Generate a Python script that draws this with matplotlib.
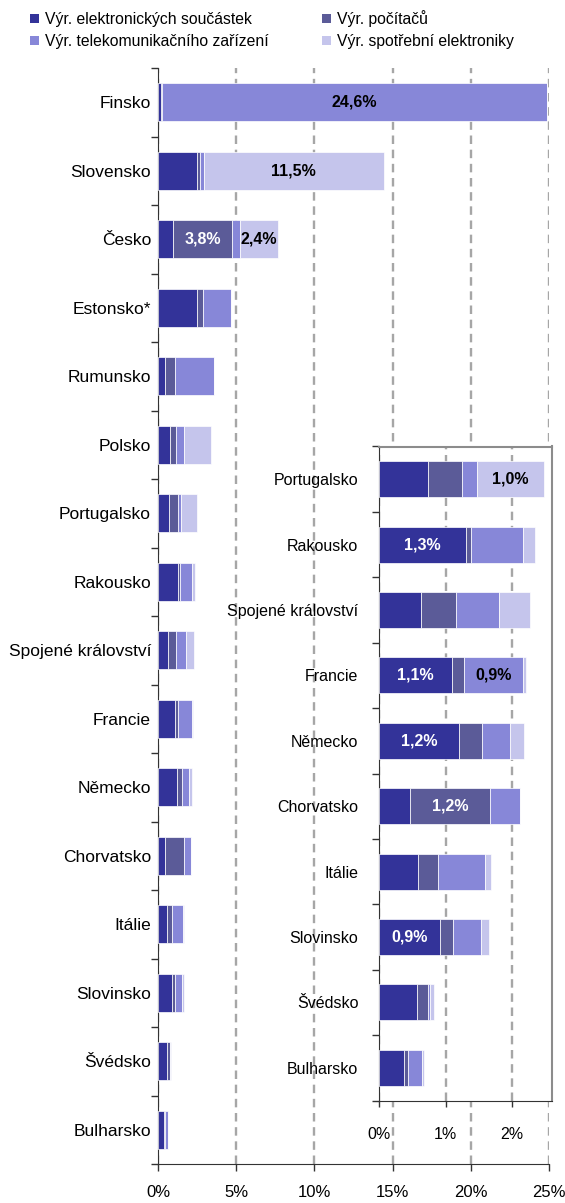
import matplotlib
matplotlib.use("Agg")
import matplotlib.pyplot as plt
from matplotlib.patches import Patch
import numpy as np

plt.rcParams["font.family"] = ["Liberation Sans", "DejaVu Sans"]

countries = ["Finsko", "Slovensko", "Česko", "Estonsko*", "Rumunsko", "Polsko",
             "Portugalsko", "Rakousko", "Spojené království", "Francie", "Německo",
             "Chorvatsko", "Itálie", "Slovinsko", "Švédsko", "Bulharsko"]
elec = [0.20, 2.50, 0.98, 2.50, 0.45, 0.77, 0.73, 1.31, 0.63, 1.09, 1.20, 0.47, 0.59, 0.92, 0.57, 0.38]
comp = [0.05, 0.17, 3.77, 0.38, 0.64, 0.36, 0.52, 0.07, 0.52, 0.18, 0.35, 1.20, 0.30, 0.19, 0.17, 0.06]
tele = [24.6, 0.25, 0.49, 1.81, 2.49, 0.53, 0.23, 0.78, 0.66, 0.90, 0.42, 0.45, 0.71, 0.42, 0.02, 0.20]
cons = [0.00, 11.5, 2.42, 0.00, 0.00, 1.70, 1.00, 0.19, 0.47, 0.04, 0.21, 0.00, 0.08, 0.13, 0.07, 0.03]
series_names = ["Výr. elektronických součástek", "Výr. počítačů",
                "Výr. telekomunikačního zařízení", "Výr. spotřební elektroniky"]
inset_countries = countries[6:]

# which segments get a value label: (series index, country, text colour)
value_labels = [(2, "Finsko", "black"), (3, "Slovensko", "black"),
                (1, "Česko", "white"), (3, "Česko", "black"),
                (3, "Portugalsko", "black"), (0, "Rakousko", "white"),
                (0, "Francie", "white"), (2, "Francie", "black"),
                (0, "Německo", "white"), (1, "Chorvatsko", "white"),
                (0, "Slovinsko", "white")]

colors = ["#333399", "#5B5B98", "#8787D8", "#C5C5EC"]
series = np.array([elec, comp, tele, cons])
grid_kw = dict(color="#A6A6A6", linewidth=1.7, linestyle=(0, (3.6, 2.4)))
W, H = 565, 1203


def rect(l, t, r, b):
    return [l / W, 1 - b / H, (r - l) / W, (b - t) / H]


def draw_bars(ax, names, labelsize):
    rows = [countries.index(c) for c in names]
    y = np.arange(len(names))
    left = np.zeros(len(names))
    for k in range(4):
        vals = series[k, rows]
        ax.barh(y, vals, left=left, height=0.55, color=colors[k],
                edgecolor="white", linewidth=0.5, zorder=3)
        left += vals
    ax.set_ylim(len(names) - 0.5, -0.5)
    ax.set_yticks(y)
    ax.set_yticklabels(names, fontsize=labelsize)
    ax.set_yticks(np.arange(len(names) + 1) - 0.5, minor=True)
    ax.tick_params(axis="y", which="major", length=0)
    ax.tick_params(axis="y", which="minor", length=5, width=1, color="#333333")
    ax.set_axisbelow(True)
    ax.grid(axis="x", **grid_kw)


fig = plt.figure(figsize=(W / 100, H / 100), dpi=100)

ax = fig.add_axes(rect(158, 68, 549, 1164))
draw_bars(ax, countries, 12.5)
ax.set_xlim(0, 25)
ax.set_xticks(range(0, 26, 5))
ax.set_xticklabels([f"{v}%" for v in range(0, 26, 5)])
ax.tick_params(axis="x", length=5, width=1, color="#333333", pad=10, labelsize=12)
ax.tick_params(axis="y", which="major", pad=5)
for s in ["top", "right"]:
    ax.spines[s].set_visible(False)
for s in ["left", "bottom"]:
    ax.spines[s].set_color("#333333")

ins = fig.add_axes(rect(379.3, 446.5, 551.7, 1100.5))
ins.set_facecolor("white")
draw_bars(ins, inset_countries, 11.5)
ins.set_xlim(0, 2.6)
ins.set_xticks([0, 1, 2])
ins.set_xticklabels(["0%", "1%", "2%"])
ins.tick_params(axis="x", length=4, width=1, color="#333333", pad=15, labelsize=11.5)
ins.tick_params(axis="y", which="major", pad=15)
for s in ["top", "right"]:
    ins.spines[s].set_color("#8C8C8C")
    ins.spines[s].set_linewidth(1.5)
for s in ["left", "bottom"]:
    ins.spines[s].set_color("#333333")

for k, name, tc in value_labels:
    i = countries.index(name)
    start = series[:k, i].sum()
    val = series[k, i]
    if name in inset_countries:
        target, y = ins, inset_countries.index(name)
    else:
        target, y = ax, i
    target.text(start + val / 2, y, f"{val:.1f}%".replace(".", ","),
                ha="center", va="center", color=tc, fontsize=11.5,
                fontweight="bold", zorder=5)

handles = [Patch(facecolor=c, edgecolor="none") for c in colors]
order = [0, 2, 1, 3]
fig.legend([handles[i] for i in order], [series_names[i] for i in order],
           ncol=2, loc="upper left", bbox_to_anchor=(30 / W, 1 - 10 / H),
           frameon=False, fontsize=11.3, handlelength=0.55, handleheight=0.55,
           handletextpad=0.4, columnspacing=3.4, labelspacing=0.45,
           borderaxespad=0, borderpad=0)

fig.savefig("out.png", dpi=100)
